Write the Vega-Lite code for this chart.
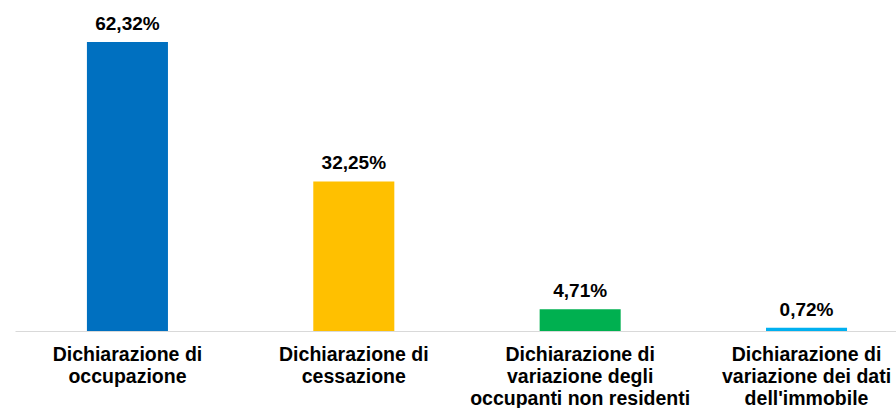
{
  "$schema": "https://vega.github.io/schema/vega-lite/v6.json",
  "width": 881,
  "height": 331,
  "autosize": {"type": "none"},
  "padding": {"left": 15, "top": 0, "right": 0, "bottom": 77},
  "background": "white",
  "config": {"view": {"stroke": null}, "font": "Liberation Sans"},
  "data": {
    "values": [
      {"cat": "Dichiarazione di|occupazione", "value": 62.32, "label": "62,32%", "color": "#0070C0"},
      {"cat": "Dichiarazione di|cessazione", "value": 32.25, "label": "32,25%", "color": "#FFC000"},
      {"cat": "Dichiarazione di|variazione degli|occupanti non residenti", "value": 4.71, "label": "4,71%", "color": "#00B050"},
      {"cat": "Dichiarazione di|variazione dei dati|dell'immobile", "value": 0.72, "label": "0,72%", "color": "#00B0F0"}
    ]
  },
  "encoding": {
    "x": {
      "field": "cat",
      "type": "nominal",
      "sort": null,
      "scale": {"paddingInner": 0.642, "paddingOuter": 0.267, "align": 0.595},
      "axis": {
        "title": null,
        "labelAngle": 0,
        "labelExpr": "split(datum.label, '|')",
        "labelFont": "Liberation Sans",
        "labelFontSize": 19.5,
        "labelFontWeight": "bold",
        "labelColor": "#000000",
        "labelLineHeight": 22.3,
        "labelPadding": 14,
        "ticks": false,
        "domainColor": "#d9d9d9",
        "domainWidth": 1,
        "labelLimit": 0
      }
    },
    "y": {
      "field": "value",
      "type": "quantitative",
      "scale": {"domain": [0, 71.4], "nice": false, "zero": true},
      "axis": null
    }
  },
  "layer": [
    {
      "mark": {"type": "bar"},
      "encoding": {
        "color": {"field": "color", "type": "nominal", "scale": null, "legend": null}
      }
    },
    {
      "mark": {"type": "text", "baseline": "alphabetic", "dy": -12, "fontSize": 19, "fontWeight": "bold", "color": "#000000", "font": "Liberation Sans"},
      "encoding": {
        "text": {"field": "label"}
      }
    }
  ]
}
